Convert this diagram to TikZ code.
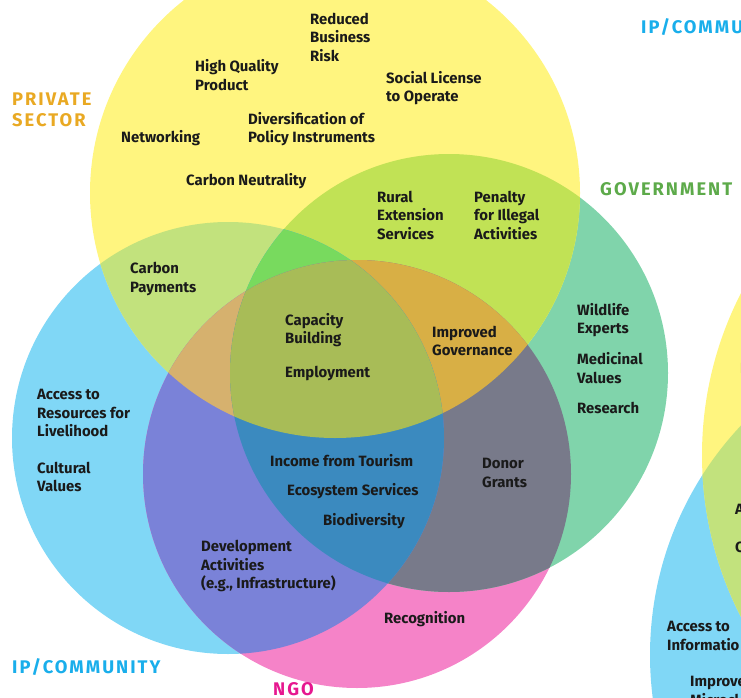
\documentclass[tikz,border=0pt]{standalone}
\usepackage{fontspec}
\setmainfont{Fira Sans}
\newfontfamily\headfont{Fira Sans}[LetterSpace=11]
\definecolor{yelC}{HTML}{FFF57F}
\definecolor{govC}{HTML}{80D4AB}
\definecolor{ipC}{HTML}{80D7F6}
\definecolor{ngoC}{HTML}{F583C8}
\definecolor{ygC}{HTML}{C1E255}
\definecolor{yiC}{HTML}{C2E27D}
\definecolor{ynC}{HTML}{E8B070}
\definecolor{giC}{HTML}{40B5C8}
\definecolor{gnC}{HTML}{787A8A}
\definecolor{inC}{HTML}{7A82D8}
\definecolor{ygiC}{HTML}{78DA5E}
\definecolor{ygnC}{HTML}{D8AF45}
\definecolor{yinC}{HTML}{D6B16E}
\definecolor{ginC}{HTML}{3B8ABF}
\definecolor{allC}{HTML}{A8BC57}
\definecolor{textC}{HTML}{1A1A1A}
\definecolor{privHead}{HTML}{E9A923}
\definecolor{govHead}{HTML}{5DAA4A}
\definecolor{ipHead}{HTML}{19AEEB}
\definecolor{ngoHead}{HTML}{E6178F}
\tikzset{item/.style={anchor=west, align=left, inner sep=0pt, text=textC, font=\bfseries\fontsize{14.9}{18.5}\selectfont}}
\tikzset{head/.style={anchor=west, align=left, inner sep=0pt, font=\headfont\bfseries\fontsize{18.3}{21}\selectfont}}
\def\circY{(335,193) circle (245pt)}
\def\circG{(449,373) circle (219pt)}
\def\circI{(228,438) circle (216pt)}
\def\circN{(357,474) circle (214pt)}
\def\circYb{(1057,455) circle (355pt)}
\def\circIb{(985,655) circle (335pt)}

\begin{document}
\begin{tikzpicture}[x=1pt,y=-1pt]
        \useasboundingbox (0,0) rectangle (741,698);
        \clip (0,0) rectangle (741,698);
        \fill [ipC] \circI;
        \fill [ngoC] \circN;
        \fill [govC] \circG;
        \fill [yelC] \circY;
        \begin{scope}
            \clip \circY;
            \fill [ygC] \circG;
            \fill [yiC] \circI;
            \fill [ynC] \circN;
        \end{scope}
        \begin{scope}
            \clip \circG;
            \fill [giC] \circI;
            \fill [gnC] \circN;
        \end{scope}
        \begin{scope}
            \clip \circI;
            \fill [inC] \circN;
        \end{scope}
        \begin{scope}
            \clip \circY; \clip \circG;
            \fill [ygiC] \circI;
            \fill [ygnC] \circN;
        \end{scope}
        \begin{scope}
            \clip \circY; \clip \circI;
            \fill [yinC] \circN;
        \end{scope}
        \begin{scope}
            \clip \circG; \clip \circI;
            \fill [ginC] \circN;
        \end{scope}
        \begin{scope}
            \clip \circY; \clip \circG; \clip \circI;
            \fill [allC] \circN;
        \end{scope}
        % next diagram, cut off at the right
        \fill [ipC] \circIb;
        \fill [yelC] \circYb;
        \begin{scope}
            \clip \circIb;
            \fill [yiC] \circYb;
        \end{scope}
        % sector names
        \node [head, text=privHead] (private) at (12,110) {PRIVATE\\SECTOR};
        \node [head, text=govHead] (gov) at (600,189) {GOVERNMENT};
        \node [head, text=ipHead] (ip) at (12,667) {IP/COMMUNITY};
        \node [head, text=ngoHead] (ngo) at (273,689) {NGO};
        \node [head, text=ipHead] (ipb) at (641,27) {IP/COMMU};
        % private sector
        \node [item] (risk) at (310,37) {Reduced\\Business\\Risk};
        \node [item] (quality) at (195,75) {High Quality\\Product};
        \node [item] (license) at (386,88) {Social License\\to Operate};
        \node [item] (diversify) at (248,129) {Diversification of\\Policy Instruments};
        \node [item] (network) at (121,138) {Networking};
        \node [item] (neutral) at (186,181) {Carbon Neutrality};
        \node [item] (rural) at (377,215) {Rural\\Extension\\Services};
        \node [item] (penalty) at (474,215) {Penalty\\for Illegal\\Activities};
        \node [item] (payments) at (130,279) {Carbon\\Payments};
        % centre
        \node [item] (capacity) at (285,330) {Capacity\\Building};
        \node [item] (employ) at (285,373) {Employment};
        \node [item] (governance) at (432,341) {Improved\\Governance};
        % government
        \node [item] (wildlife) at (577,320) {Wildlife\\Experts};
        \node [item] (medicinal) at (577,368) {Medicinal\\Values};
        \node [item] (research) at (577,408) {Research};
        % community
        \node [item] (access) at (37,413) {Access to\\Resources for\\Livelihood};
        \node [item] (cultural) at (37,477) {Cultural\\Values};
        \node [item] (tourism) at (270,461) {Income from Tourism};
        \node [item] (ecosystem) at (287,491) {Ecosystem Services};
        \node [item] (biodiv) at (323,521) {Biodiversity};
        \node [item] (donor) at (482,473) {Donor\\Grants};
        \node [item] (develop) at (201,566) {Development\\Activities\\(e.g., Infrastructure)};
        \node [item] (recognition) at (384,619) {Recognition};
        % cut off labels
        \node [item] (cutI) at (740,368) {I};
        \node [item] (cutA) at (735,509) {A};
        \node [item] (cutC) at (735,547) {C};
        \node [item] (accessb) at (667,636) {Access to\\Informatio};
        \node [item] (improveb) at (690,691) {Improve\\Microcl};
    \end{tikzpicture}
\end{document}
